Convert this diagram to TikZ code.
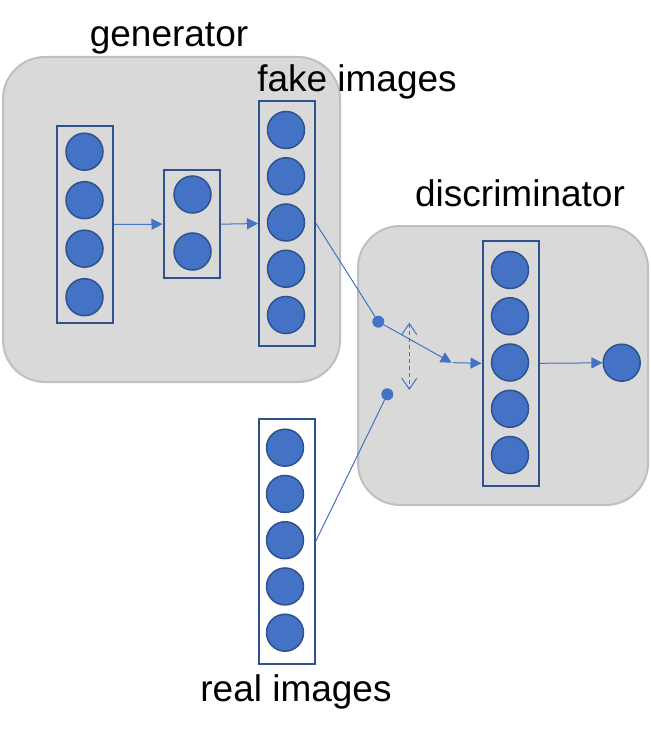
\documentclass[tikz,border=0pt]{standalone}
\usepackage{fontspec}
\setmainfont{Liberation Sans}
\usepackage{xcolor}
\usepackage{tikz}
\usetikzlibrary{arrows.meta}
\definecolor{panelgray}{HTML}{D9D9D9}
\definecolor{paneledge}{HTML}{BFBFBF}
\definecolor{unitblue}{HTML}{4472C4}
\definecolor{unitedge}{HTML}{2F528F}

\begin{document}
\begin{tikzpicture}[
  font=\fontsize{37}{44}\selectfont,
  panel/.style={draw=paneledge,fill=panelgray,line width=2pt,rounded corners=42pt,inner sep=0pt},
  layerbox/.style={draw=unitedge,line width=2pt,minimum width=56pt,inner sep=0pt},
  neuron/.style={circle,draw=unitedge,fill=unitblue,line width=1.5pt,minimum size=37pt,inner sep=0pt},
  joint/.style={circle,fill=unitblue,minimum size=12pt,inner sep=0pt},
  wire/.style={draw=unitblue,line width=1pt},
  feed/.style={wire,-{Triangle[length=11pt,width=11pt]}},
  toggle/.style={wire,dash pattern=on 4pt off 3pt,{Straight Barb[length=11pt,width=15pt]}-{Straight Barb[length=11pt,width=15pt]}}
]
\begin{scope}[x=1pt,y=-1pt]
  \useasboundingbox (0,0) rectangle (650,735);

  \node[panel,minimum width=337pt,minimum height=325pt] (gen) at (171.5,219.5) {};
  \node[panel,minimum width=290pt,minimum height=279pt] (dis) at (503,365.5) {};

  \node[layerbox,minimum height=197pt] (in) at (84.5,224.5) {};
  \foreach \k in {0,...,3}
    \node[neuron] (in\k) at (84.5,{151.7+48.5*\k}) {};

  \node[layerbox,minimum height=108pt] (hid) at (191.5,224.2) {};
  \foreach \k in {0,1}
    \node[neuron] (hid\k) at (192.5,{194.5+57*\k}) {};

  \node[layerbox,minimum height=245pt] (fake) at (287,223.5) {};
  \foreach \k in {0,...,4}
    \node[neuron] (fake\k) at (286,{130+46.25*\k}) {};

  \node[layerbox,minimum height=245pt] (dbox) at (510.5,363.3) {};
  \foreach \k in {0,...,4}
    \node[neuron] (disc\k) at (510,{270+46.25*\k}) {};
  \node[neuron] (out) at (621.7,362.7) {};

  \node[layerbox,minimum height=245pt] (real) at (286.5,541.7) {};
  \foreach \k in {0,...,4}
    \node[neuron] (real\k) at (285,{447.7+46.25*\k}) {};

  \node[joint] (fakejoint) at (378.3,321.7) {};
  \node[joint] (realjoint) at (387.3,394.3) {};
  \coordinate (switch) at (451.7,362.7);
  \coordinate (switchout) at (453,362.7);
  \coordinate (swtop) at (409.3,322.7);
  \coordinate (swbot) at (409.3,390);

  \draw[feed] (in.east) -- (hid.west);
  \draw[feed] (hid.east) -- (fake.west);
  \draw[wire] (fake.east) -- (fakejoint);
  \draw[wire] (real.east) -- (realjoint);
  \draw[feed] (fakejoint) -- (switch);
  \draw[feed] (switchout) -- (dbox.west);
  \draw[feed] (dbox.east) -- (out);
  \draw[toggle] (swtop) -- (swbot);

  \node[anchor=base] (genlabel) at (169,47) {generator};
  \node[anchor=base] (fakelabel) at (357,92) {fake images};
  \node[anchor=base] (dislabel) at (520,206.7) {discriminator};
  \node[anchor=base] (reallabel) at (296,701.7) {real images};
\end{scope}
\end{tikzpicture}
\end{document}
